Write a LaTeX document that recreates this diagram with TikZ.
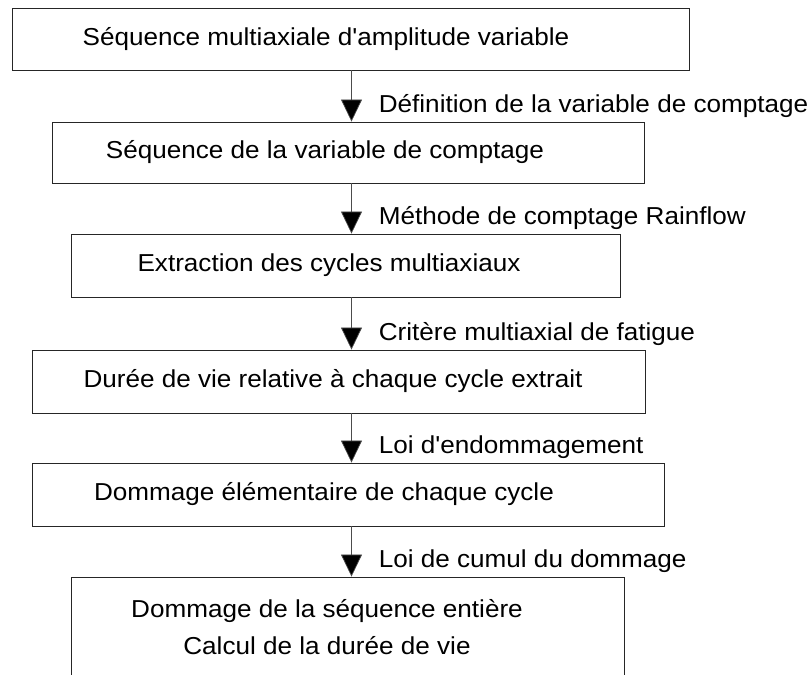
\documentclass[tikz,border=0pt]{standalone}
\usepackage{fontspec}
\setmainfont{Liberation Sans}[FakeStretch=1.065, Ligatures=TeXOff]
\usetikzlibrary{arrows.meta}
\tikzset{
  etape/.style={draw=black!85, line width=0.9pt, inner sep=0pt, font=\fontsize{24.5}{37}\selectfont},
  fleche/.style={draw=black!70, line width=0.7pt, -{Triangle[width=21pt,length=22pt,fill=black]}},
  legende/.style={anchor=base west, inner sep=0pt, xshift=27pt, yshift=9.5pt, font=\fontsize{24.5}{28}\selectfont}
}
\begin{document}
\begin{tikzpicture}[x=1pt,y=-1pt]
\useasboundingbox (0,0) rectangle (812,675);
\coordinate (axe) at (351.5,0);
% les etapes
\node[etape, minimum width=677pt, minimum height=62pt] (seq) at (350.5,39) {Séquence multiaxiale d'amplitude variable\hspace*{49pt}};
\node[etape, minimum width=592pt, minimum height=61pt] (var) at (348,152.5) {Séquence de la variable de comptage\hspace*{46pt}};
\node[etape, minimum width=549pt, minimum height=63pt] (cyc) at (345.5,265.5) {Extraction des cycles multiaxiaux\hspace*{33pt}};
\node[etape, minimum width=613pt, minimum height=63pt] (vie) at (338.5,381.5) {Durée de vie relative à chaque cycle extrait\hspace*{11pt}};
\node[etape, minimum width=632pt, minimum height=63pt] (dom) at (348,494.5) {Dommage élémentaire de chaque cycle\hspace*{48pt}};
\node[etape, align=center, minimum width=553pt, minimum height=100pt] (tot) at (347.5,627) {Dommage de la séquence entière\hspace*{41pt}\\Calcul de la durée de vie\hspace*{41pt}};
% les fleches
\draw[fleche] (seq.south -| axe) -- (var.north -| axe) node[legende] {Définition de la variable de comptage};
\draw[fleche] (var.south -| axe) -- (cyc.north -| axe) node[legende] {Méthode de comptage Rainflow};
\draw[fleche] (cyc.south -| axe) -- (vie.north -| axe) node[legende] {Critère multiaxial de fatigue};
\draw[fleche] (vie.south -| axe) -- (dom.north -| axe) node[legende] {Loi d'endommagement};
\draw[fleche] (dom.south -| axe) -- (tot.north -| axe) node[legende] {Loi de cumul du dommage};
\end{tikzpicture}
\end{document}
